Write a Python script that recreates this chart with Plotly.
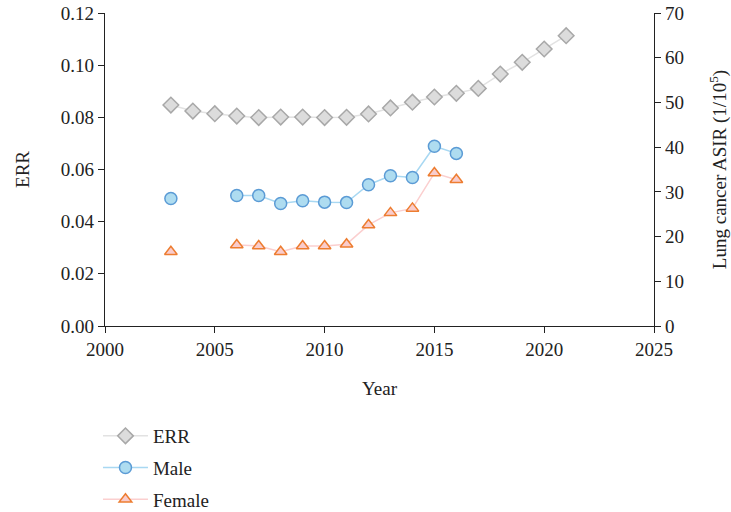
import plotly.graph_objects as go

# Excess relative risk by year
err_years = list(range(2003, 2022))
err_values = [0.0847, 0.0824, 0.0814, 0.0805, 0.0799, 0.0801, 0.0801, 0.0799, 0.0800,
              0.0813, 0.0836, 0.0858, 0.0878, 0.0892, 0.0911, 0.0966, 0.1011, 0.1062, 0.1113]

# Lung cancer age-standardised incidence rate (per 100,000); None = no data
asir_years = list(range(2003, 2017))
male_asir = [28.5, None, None, 29.2, 29.2, 27.4, 28.0, 27.7, 27.6, 31.6, 33.6, 33.2, 40.2, 38.6]
female_asir = [16.6, None, None, 18.1, 17.9, 16.6, 17.9, 17.9, 18.3, 22.6, 25.3, 26.3, 34.2, 32.7]

FONT = "Liberation Serif"
INK = "#222222"
fig = go.Figure()

fig.add_trace(go.Scatter(
    x=err_years, y=err_values, name="ERR", mode="lines+markers",
    line=dict(color="#e2e2e2", width=1.5),
    marker=dict(symbol="diamond", size=12, color="#dcdcdc",
                line=dict(color="#a8a8a8", width=1.5)),
    legendgroup="a", yaxis="y"))

fig.add_trace(go.Scatter(
    x=asir_years, y=male_asir, name="Male", mode="lines+markers",
    line=dict(color="#a8d8f2", width=1.5),
    marker=dict(symbol="circle", size=12, color="#aedcf0",
                line=dict(color="#5b9bd5", width=1.5)),
    legendgroup="b", yaxis="y2"))

fig.add_trace(go.Scatter(
    x=asir_years, y=female_asir, name="Female", mode="lines+markers",
    line=dict(color="#fbcfcf", width=1.5),
    marker=dict(symbol="triangle-up", size=11, color="#f9cccc",
                line=dict(color="#ed7d31", width=1.5)),
    legendgroup="c", yaxis="y2"))

axis_common = dict(showline=True, linecolor=INK, linewidth=1.3,
                   ticks="outside", ticklen=6, tickcolor=INK,
                   showgrid=False, zeroline=False, automargin=False,
                   tickfont=dict(family=FONT, size=19, color=INK))

fig.update_layout(
    width=731, height=512,
    margin=dict(l=105, r=77, t=13, b=186),
    paper_bgcolor="white", plot_bgcolor="white",
    font=dict(family=FONT, size=19, color=INK),
    xaxis=dict(range=[2000, 2025], tick0=2000, dtick=5,
               title=dict(text="Year", font=dict(family=FONT, size=19), standoff=22),
               **axis_common),
    yaxis=dict(range=[0, 0.12], dtick=0.02, tickformat=".2f",
               title=dict(text="ERR", font=dict(family=FONT, size=19), standoff=26),
               **axis_common),
    yaxis2=dict(range=[0, 70], dtick=10, overlaying="y", side="right",
                title=dict(text="Lung cancer ASIR (1/10<sup>5</sup>)",
                           font=dict(family=FONT, size=19), standoff=30),
                **axis_common),
    legend=dict(x=-0.0128, xanchor="left", xref="paper",
                y=1 - 417 / 512, yanchor="top", yref="container",
                traceorder="grouped", tracegroupgap=4, itemwidth=45,
                font=dict(family=FONT, size=19, color=INK),
                bgcolor="rgba(0,0,0,0)"),
    showlegend=True,
)

fig.write_html("out.html")
